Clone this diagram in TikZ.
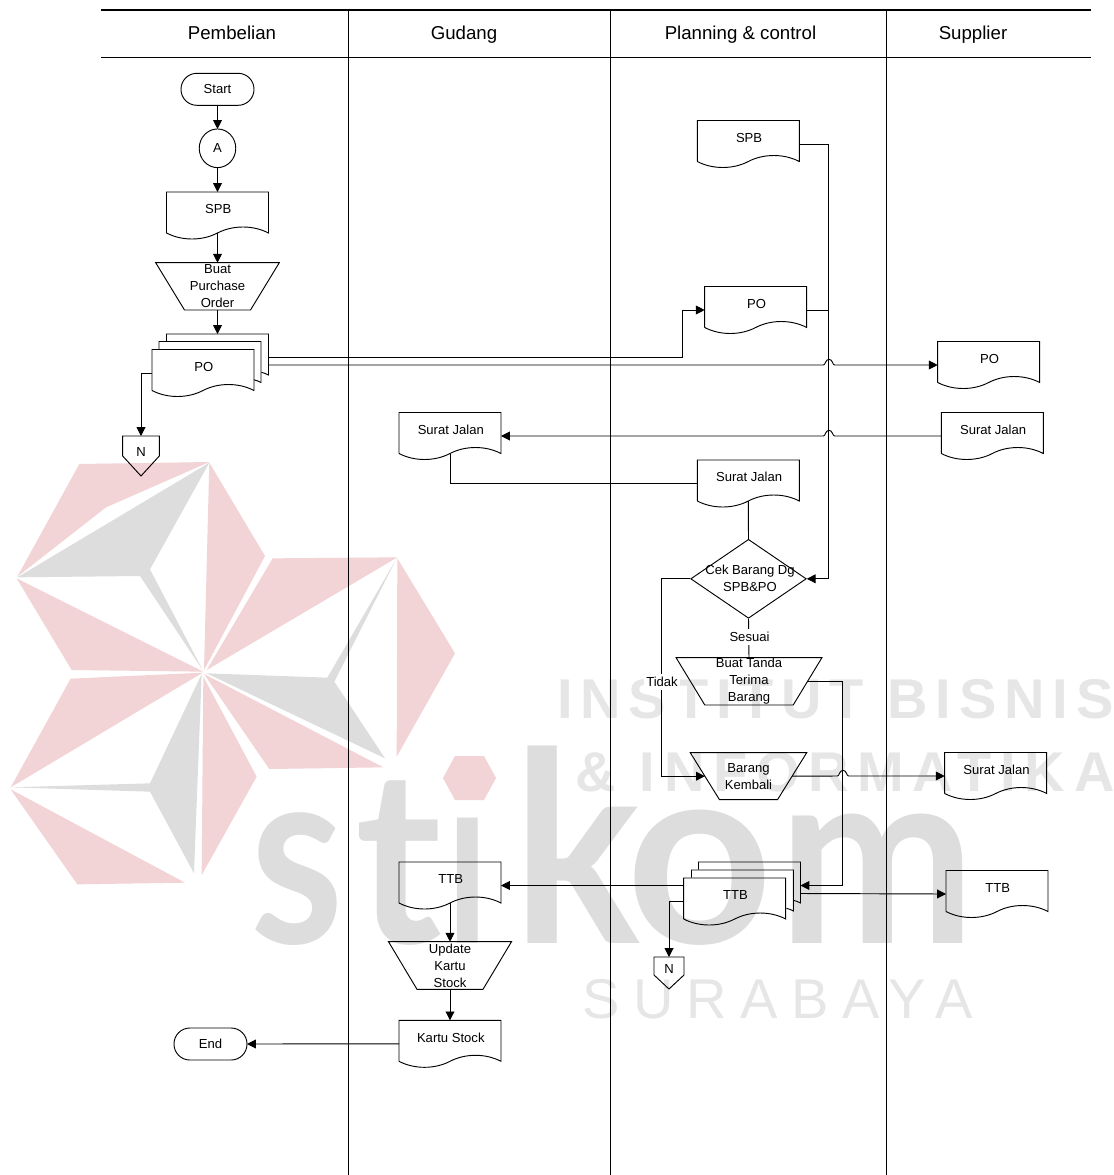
\documentclass[tikz,border=0pt]{standalone}
\usepackage{fontspec}
\usepackage{graphicx}
\setmainfont{Liberation Sans}
\newfontfamily\wmlogo{Lato}
\newfontfamily\wmbold[LetterSpace=14]{Liberation Sans Bold}
\newfontfamily\wmboldb[LetterSpace=15.5]{Liberation Sans Bold}
\newfontfamily\wmthin[LetterSpace=24]{Liberation Sans}
\usetikzlibrary{arrows.meta,shapes.geometric}
\definecolor{wmpink}{HTML}{F2D3D6}
\definecolor{wmgray}{HTML}{DDDDDD}
\definecolor{wmtext}{HTML}{E6E6E6}
\tikzset{
  shp/.style={draw=black,line width=0.7pt,line join=miter},
  lane/.style={draw=black,line width=0.95pt},
  conn/.style={draw=black,line width=0.7pt},
  arr/.style={conn,-{Triangle[length=6.6pt,width=6.6pt]}},
  txt/.style={font=\fontsize{9.8}{12.75}\selectfont,align=center,inner sep=0pt,outer sep=0pt},
  head/.style={font=\fontsize{14}{16}\selectfont,inner sep=0pt,anchor=base},
  docbox/.style={txt,rectangle,minimum width=76.5pt,minimum height=35.25pt},
  wmp/.style={fill=wmpink,draw=none},
  wmg/.style={fill=wmgray,draw=none},
  wml/.style={anchor=base west,inner sep=0pt,text=wmgray},
  lab/.style={txt,fill=white,inner xsep=1.5pt,inner ysep=2.5pt},
}
% document symbol, 102 x 47 px
\newcommand\docnode[4]{%
  \node[docbox] (#1) at (#2,#3) {\hspace*{1.2pt}\raisebox{1.3pt}[0pt][0pt]{#4}};
  \coordinate (#1w) at ([yshift=-13.125pt]#1.center);
  \draw[shp,shift={(#2,#3)}] (-51,17.5) -- (-51,-23.5) -- (51,-23.5) -- (51,17.5)
    .. controls (35.7,9.5) and (15.3,9.5) .. (0,17.5)
    .. controls (-15.3,25.5) and (-35.7,25.5) .. (-51,17.5);
}
% partly hidden sheet of a stack
\newcommand\backsheet[3]{%
  \node[docbox] (#1) at (#2,#3) {};
  \draw[shp,shift={(#2,#3)}] (-51,-16) -- (-51,-23.5) -- (51,-23.5) -- (51,17.5)
    .. controls (48.5,16.2) and (46.5,15.4) .. (44,14.8);
}
% trapezoid: name, cx, top, bottom, half top, half bottom, text
\newcommand\trapnode[7]{%
  \node[txt,rectangle,minimum width={(#5+#6)*0.75pt},minimum height={(#4-#3)*0.75pt}] (#1) at (#2,{(#3+#4)/2}) {#7};
  \draw[shp] ({#2-#5},#3) -- ({#2+#5},#3) -- ({#2+#6},#4) -- ({#2-#6},#4) -- cycle;
}
% off-page: name, cx, top, shoulder, tip, half width, raise
\newcommand\offpage[7]{%
  \node[txt,rectangle,minimum width={2*#6*0.75pt},minimum height={(#5-#3)*0.75pt}] (#1) at (#2,{(#3+#5)/2}) {\raisebox{#7}[0pt][0pt]{N}};
  \draw[shp] ({#2-#6},#3) -- ({#2+#6},#3) -- ({#2+#6},#4) -- (#2,#5) -- ({#2-#6},#4) -- cycle;
}
\newcommand\hop[2]{-- ({#1-5.5},#2) .. controls ({#1-3.6},#2) and ({#1-3.6},{#2-5.7}) .. (#1,{#2-5.7}) .. controls ({#1+3.6},{#2-5.7}) and ({#1+3.6},#2) .. ({#1+5.5},#2)}
\newcommand\hopl[2]{-- ({#1+5.5},#2) .. controls ({#1+3.6},#2) and ({#1+3.6},{#2-5.7}) .. (#1,{#2-5.7}) .. controls ({#1-3.6},{#2-5.7}) and ({#1-3.6},#2) .. ({#1-5.5},#2)}
\begin{document}
\begin{tikzpicture}[x=0.75pt,y=-0.75pt]
\useasboundingbox (0,0) rectangle (1114,1175);
\fill[white] (0,0) rectangle (1114,1175);
% ---------- watermark
\begin{scope}
\clip (0,0) rectangle (1114,1175);
\begin{scope}[shift={(0,450)},x=0.25pt,y=-0.25pt]
  \fill[wmp] (238,42) -- (628,36) -- (318,172) -- (52,380) -- cycle;
  \fill[wmg] (52,382) -- (628,38) -- (450,358) -- (608,660) -- (420,378) -- cycle;
  \fill[wmp] (628,38) -- (795,318) -- (612,660) -- cycle;
  \fill[wmp] (50,385) -- (610,665) -- (215,660) -- cycle;
  \fill[wmp] (818,325) -- (1192,322) -- (620,660) -- cycle;
  \fill[wmp] (1192,325) -- (1365,610) -- (1190,920) -- cycle;
  \fill[wmg] (1190,325) -- (1003,695) -- (1155,925) -- (620,670) -- (982,683) -- cycle;
  \fill[wmp] (612,672) -- (1150,952) -- (808,957) -- cycle;
  \fill[wmp] (212,686) -- (608,668) -- (32,1012) -- cycle;
  \fill[wmg] (32,1012) -- (450,1000) -- (605,672) -- (582,1270) -- (450,1025) -- cycle;
  \fill[wmp] (610,680) -- (770,980) -- (605,1275) -- cycle;
  \fill[wmp] (32,1018) -- (555,1298) -- (232,1303) -- cycle;
\end{scope}
\fill[wmp] (455,756) -- (484,756) -- (496,778) -- (484,800) -- (455,800) -- (443,778) -- cycle;
\node[wml] (wms) at (250,943) {\resizebox{70pt}{98pt}{\wmlogo\bfseries s}};
\node[wml] (wmt) at (355,943) {\resizebox{65pt}{122pt}{\wmlogo\bfseries t}};
\node[wml] (wmi) at (446,943) {\resizebox{32pt}{94pt}{\wmlogo\bfseries\char"0131}};
\node[wml] (wmk) at (513,943) {\resizebox{95pt}{148pt}{\wmlogo\bfseries k}};
\node[wml] (wmo) at (626,943) {\resizebox{110pt}{100pt}{\wmlogo\bfseries o}};
\node[wml] (wmm) at (778,943) {\resizebox{148pt}{97pt}{\wmlogo\bfseries m}};
\node[anchor=base west,inner sep=0pt,text=wmtext,font=\fontsize{42}{46}\wmbold\selectfont] (wminst) at (557,718) {INSTITUT BISNIS};
\node[anchor=base west,inner sep=0pt,text=wmtext,font=\fontsize{42}{46}\wmboldb\selectfont] (wminf) at (575,791) {\& INFORMATIKA};
\node[anchor=base west,inner sep=0pt,text=wmtext,font=\fontsize{42}{46}\wmthin\selectfont] (wmsby) at (582,1018) {SURABAYA};
\end{scope}
% ---------- swimlanes
\coordinate (tl) at (101,10);
\coordinate (tr) at (1091,10);
\coordinate (hl) at (101,57.5);
\coordinate (hr) at (1091,57.5);
\coordinate (a1) at (348.5,10);
\coordinate (a2) at (348.5,1175);
\coordinate (b1) at (610.5,10);
\coordinate (b2) at (610.5,1175);
\coordinate (c1) at (886.7,10);
\coordinate (c2) at (886.7,1175);
\draw[lane] (tl) -- (tr);
\draw[lane] (hl) -- (hr);
\draw[lane] (a1) -- (a2);
\draw[lane] (b1) -- (b2);
\draw[lane] (c1) -- (c2);
\node[head] (h1) at (232,39.5) {Pembelian};
\node[head] (h2) at (464,39.5) {Gudang};
\node[head] (h3) at (740.5,39.5) {Planning \& control};
\node[head] (h4) at (973,39.5) {Supplier};
% ---------- Pembelian
\node[txt,shp,rectangle,rounded corners=11.9pt,minimum width=54.75pt,minimum height=24pt] (Start) at (217.5,89.3) {Start};
\node[txt,shp,ellipse,minimum width=27.4pt,minimum height=29pt] (A) at (217.5,148.3) {A};
\docnode{SPBa}{217.5}{215.5}{SPB}
\trapnode{Buat}{217.5}{262.7}{310}{61.8}{33}{Buat\\Purchase\\Order}
\backsheet{POa}{217.5}{357.5}
\backsheet{POb}{210}{365}
\docnode{POc}{203}{373}{PO}
\offpage{Na}{141}{436}{456}{476}{18.3}{0pt}
% ---------- Gudang
\docnode{SJg}{450}{436}{Surat Jalan}
\docnode{TTBg}{450}{885.5}{TTB}
\trapnode{Upd}{450}{941.7}{989.3}{61.5}{33}{Update\\Kartu\\Stock}
\docnode{Kartu}{450}{1043.8}{Kartu Stock}
\node[txt,shp,rectangle,rounded corners=11.9pt,minimum width=54.75pt,minimum height=24pt] (End) at (210.5,1044) {End};
% ---------- Planning
\docnode{SPBp}{748.3}{144}{SPB}
\docnode{POp}{755.7}{310}{PO}
\docnode{SJp}{748.3}{483.5}{Surat Jalan}
\node[shp,diamond,inner sep=0pt,minimum width=86.7pt,minimum height=59.2pt,aspect=1.46] (Cek) at (748.5,578.8) {};
\node[txt] (CekT) at (750,578.5) {Cek Barang Dg\\SPB\&PO};
\trapnode{Tanda}{749}{657.7}{705}{72.9}{44.2}{Buat Tanda\\Terima\\Barang}
\trapnode{Kembali}{748.5}{752.7}{799.7}{58.2}{29}{Barang\\Kembali}
\backsheet{TTBa}{749.5}{885.5}
\backsheet{TTBb}{742.5}{893.5}
\docnode{TTBc}{734.7}{901.5}{TTB}
\offpage{Nb}{669}{957}{975}{989}{15}{-0.7pt}
% ---------- Supplier
\docnode{POs}{988.7}{365}{PO}
\docnode{SJs}{992.3}{436}{Surat Jalan}
\docnode{SJr}{995.7}{776}{Surat Jalan}
\docnode{TTBs}{997}{894}{TTB}
% ---------- routing columns
\coordinate (jr) at (828.3,0);
\coordinate (jp) at (682.7,0);
\coordinate (jn) at (141,0);
\coordinate (jt) at (661.7,0);
\coordinate (jb) at (842.7,0);
% ---------- connectors
\draw[arr] (Start.south) -- (A.north);
\draw[arr] (A.south) -- (SPBa.north);
\draw[arr] (SPBaw) -- (Buat.north);
\draw[arr] (Buat.south) -- (POa.north);
\draw[arr] (POa.east) -- (POa.east -| jp) -- (POp.west -| jp) -- (POp.west);
\draw[arr] (POa.east |- POb.east) \hop{829}{365} -- (POs.west);
\draw[arr] (POc.west) -- (POc.west -| jn) -- (Na.north);
\draw[conn] (SPBp.east) -- (SPBp.east -| jr) -- (Cek.east -| jr);
\draw[arr] (Cek.east -| jr) -- (Cek.east);
\draw[conn] (POp.east) -- (POp.east -| jr);
\draw[arr] (SJs.west) \hopl{829}{436} -- (SJg.east);
\draw[conn] (SJgw) -- (SJgw |- SJp.west) -- (SJp.west);
\draw[conn] (SJpw) -- (Cek.north);
\draw[conn] (Cek.south) -- (Tanda.north);
\draw[arr] (Cek.west) -- (Cek.west -| jt) -- (Kembali.west -| jt) -- (Kembali.west);
\draw[arr] (Kembali.east) \hop{843}{776} -- (SJr.west);
\draw[arr] (Tanda.east) -- (Tanda.east -| jb) -- (TTBa.east -| jb) -- (TTBa.east);
\draw[arr] (TTBa.east |- TTBb.east) -- (TTBs.west);
\draw[arr] (TTBc.west |- TTBg.east) -- (TTBg.east);
\draw[arr] (TTBc.west) -- (TTBc.west -| Nb.north) -- (Nb.north);
\draw[arr] (TTBgw) -- (Upd.north);
\draw[arr] (Upd.south) -- (Kartu.north);
\draw[arr] (Kartu.west) -- (End.east);
\node[lab] (lSesuai) at (749.5,637) {Sesuai};
\node[lab] (lTidak) at (662,682) {Tidak};
\end{tikzpicture}
\end{document}
